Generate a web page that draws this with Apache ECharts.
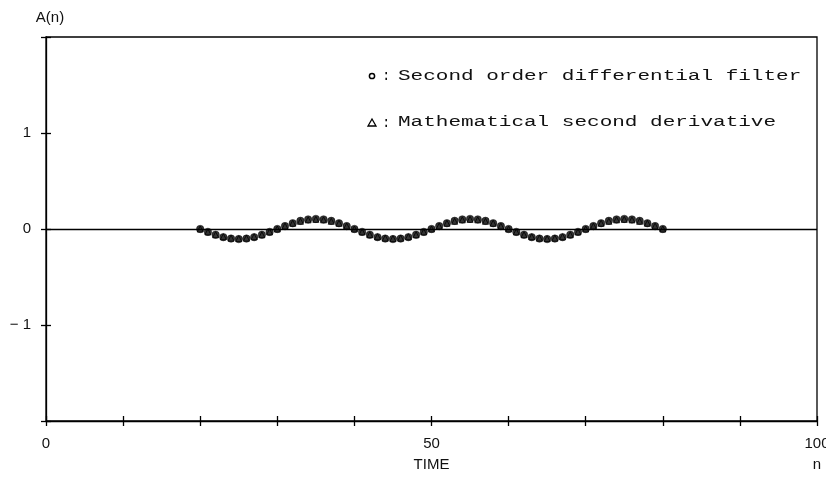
<!DOCTYPE html>
<html>
<head>
<meta charset="utf-8">
<script src="https://cdn.jsdelivr.net/npm/echarts@6/dist/echarts.min.js"></script>
<style>
  html, body { margin: 0; padding: 0; background: #fff; }
  #chart { width: 826px; height: 482px; }
</style>
</head>
<body>
<div id="chart"></div>
<script>
// time samples n
var timeN = [20, 21, 22, 23, 24, 25, 26, 27, 28, 29,
  30, 31, 32, 33, 34, 35, 36, 37, 38, 39,
  40, 41, 42, 43, 44, 45, 46, 47, 48, 49,
  50, 51, 52, 53, 54, 55, 56, 57, 58, 59,
  60, 61, 62, 63, 64, 65, 66, 67, 68, 69,
  70, 71, 72, 73, 74, 75, 76, 77, 78, 79, 80]
// second order differential filter output
var filterVals = [0, -0.03, -0.06, -0.085, -0.1, -0.105, -0.1, -0.085, -0.06, -0.03,
  0, 0.03, 0.06, 0.085, 0.1, 0.105, 0.1, 0.085, 0.06, 0.03,
  0, -0.03, -0.06, -0.085, -0.1, -0.105, -0.1, -0.085, -0.06, -0.03,
  0, 0.03, 0.06, 0.085, 0.1, 0.105, 0.1, 0.085, 0.06, 0.03,
  0, -0.03, -0.06, -0.085, -0.1, -0.105, -0.1, -0.085, -0.06, -0.03,
  0, 0.03, 0.06, 0.085, 0.1, 0.105, 0.1, 0.085, 0.06, 0.03, 0]
// mathematical second derivative
var derivVals = [0, -0.03, -0.06, -0.08, -0.095, -0.1, -0.095, -0.08, -0.06, -0.03,
  0, 0.03, 0.06, 0.08, 0.095, 0.1, 0.095, 0.08, 0.06, 0.03,
  0, -0.03, -0.06, -0.08, -0.095, -0.1, -0.095, -0.08, -0.06, -0.03,
  0, 0.03, 0.06, 0.08, 0.095, 0.1, 0.095, 0.08, 0.06, 0.03,
  0, -0.03, -0.06, -0.08, -0.095, -0.1, -0.095, -0.08, -0.06, -0.03,
  0, 0.03, 0.06, 0.08, 0.095, 0.1, 0.095, 0.08, 0.06, 0.03, 0]
var xLabels = ['0', '50', '100']
var yLabels = ['− 1', '0', '1']

function pairs (xs, ys) {
  return xs.map(function (x, i) { return [x, ys[i]] })
}

var sans = 'Liberation Sans'
var mono = 'Liberation Mono'
var tickStyle = { color: '#000', width: 1.3 }

var myChart = echarts.init(document.getElementById('chart'))
myChart.setOption({
  animation: false,
  backgroundColor: '#fff',
  grid: {
    left: 46,
    right: 9,
    top: 37,
    bottom: 61,
    outerBoundsMode: 'none',
    show: true,
    borderColor: '#000',
    borderWidth: 1.3
  },
  xAxis: [
    {
      type: 'value',
      min: 0,
      max: 100,
      interval: 10,
      name: 'TIME',
      nameLocation: 'middle',
      nameGap: 36,
      nameTextStyle: { fontFamily: sans, fontSize: 15, color: '#111' },
      axisLine: { onZero: false, lineStyle: tickStyle },
      axisTick: { inside: false, length: 5, lineStyle: tickStyle },
      splitLine: { show: false },
      axisLabel: {
        margin: 15,
        fontFamily: sans,
        fontSize: 15,
        color: '#111',
        formatter: function (v) {
          return v % 50 === 0 ? xLabels[v / 50] : ''
        }
      }
    },
    {
      // inner half of the crossing ticks
      type: 'value',
      min: 0,
      max: 100,
      interval: 10,
      position: 'bottom',
      name: 'n',
      nameLocation: 'end',
      nameGap: 0,
      nameTextStyle: {
        fontFamily: sans, fontSize: 15, color: '#111',
        align: 'center', verticalAlign: 'top', padding: [36, 0, 0, 0]
      },
      axisLine: { show: false, onZero: false },
      axisTick: { inside: true, length: 5, lineStyle: tickStyle },
      axisLabel: { show: false },
      splitLine: { show: false }
    }
  ],
  yAxis: [
    {
      type: 'value',
      min: -2,
      max: 2,
      interval: 1,
      name: 'A(n)',
      nameLocation: 'end',
      nameGap: 12,
      nameTextStyle: { fontFamily: sans, fontSize: 15, color: '#111', padding: [0, 0, 0, 8] },
      axisLine: { onZero: false, lineStyle: tickStyle },
      axisTick: { inside: false, length: 5, lineStyle: tickStyle },
      splitLine: { show: false },
      axisLabel: {
        margin: 15,
        fontFamily: sans,
        fontSize: 15,
        color: '#111',
        formatter: function (v) {
          return Math.abs(v) <= 1 ? yLabels[v + 1] : ''
        }
      }
    },
    {
      type: 'value',
      min: -2,
      max: 2,
      interval: 1,
      position: 'left',
      axisLine: { show: false, onZero: false },
      axisTick: { inside: true, length: 5, lineStyle: tickStyle },
      axisLabel: { show: false },
      splitLine: { show: false }
    }
  ],
  series: [
    {
      name: 'Mathematical second derivative',
      type: 'scatter',
      symbol: 'triangle',
      symbolSize: 6,
      itemStyle: { color: '#fff', borderColor: '#000', borderWidth: 1 },
      data: pairs(timeN, derivVals),
      markLine: {
        silent: true,
        symbol: 'none',
        label: { show: false },
        lineStyle: { color: '#000', width: 1.3, type: 'solid' },
        data: [{ yAxis: 0 }]
      }
    },
    {
      name: 'Second order differential filter',
      type: 'scatter',
      symbol: 'circle',
      symbolSize: 7.5,
      itemStyle: { color: '#000', borderColor: '#000', borderWidth: 0.5 },
      data: pairs(timeN, filterVals)
    }
  ],
  graphic: [
    { type: 'circle', shape: { cx: 372, cy: 76, r: 2.6 }, style: { fill: '#fff', stroke: '#000', lineWidth: 1.5 } },
    { type: 'text', x: 382, y: 76, style: { text: ':', fontFamily: mono, fontSize: 14, fill: '#111', verticalAlign: 'middle' } },
    { type: 'text', x: 398, y: 76, scaleX: 1.5, style: { text: 'Second order differential filter', fontFamily: mono, fontSize: 14, fill: '#111', verticalAlign: 'middle' } },
    { type: 'polygon', shape: { points: [[368, 126], [376, 126], [372, 119]] }, style: { fill: '#fff', stroke: '#000', lineWidth: 1.3 } },
    { type: 'text', x: 382, y: 123, style: { text: ':', fontFamily: mono, fontSize: 14, fill: '#111', verticalAlign: 'middle' } },
    { type: 'text', x: 398, y: 122, scaleX: 1.5, style: { text: 'Mathematical second derivative', fontFamily: mono, fontSize: 14, fill: '#111', verticalAlign: 'middle' } }
  ]
})
</script>
</body>
</html>
